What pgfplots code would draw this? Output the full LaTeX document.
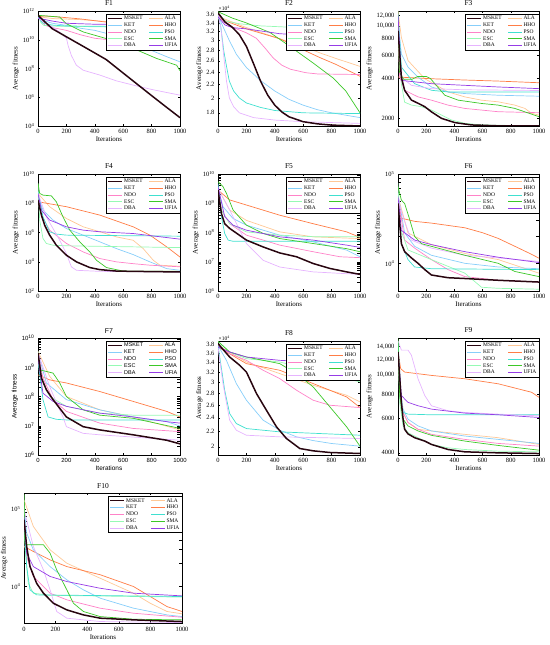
\documentclass[border=0pt]{standalone}
\usepackage{fontspec}
\setmainfont{Liberation Serif}
\newfontfamily\sansf{Liberation Sans}
\usepackage{pgfplots}
\pgfplotsset{compat=1.18}
\definecolor{cMSKET}{RGB}{40,5,15}
\definecolor{cKET}{RGB}{135,206,250}
\definecolor{cNDO}{RGB}{255,130,200}
\definecolor{cESC}{RGB}{150,250,180}
\definecolor{cDBA}{RGB}{230,180,255}
\definecolor{cALA}{RGB}{255,200,150}
\definecolor{cHHO}{RGB}{255,125,70}
\definecolor{cPSO}{RGB}{64,224,208}
\definecolor{cSMA}{RGB}{60,200,40}
\definecolor{cUFIA}{RGB}{150,60,230}
\pgfplotsset{
 sMSKET/.style={color=cMSKET, line width=1.5bp},
 sKET/.style={color=cKET, line width=0.7bp},
 sNDO/.style={color=cNDO, line width=0.7bp},
 sESC/.style={color=cESC, line width=0.7bp},
 sDBA/.style={color=cDBA, line width=0.7bp},
 sALA/.style={color=cALA, line width=0.7bp},
 sHHO/.style={color=cHHO, line width=0.7bp},
 sPSO/.style={color=cPSO, line width=0.7bp},
 sSMA/.style={color=cSMA, line width=0.7bp},
 sUFIA/.style={color=cUFIA, line width=0.7bp},
 base/.style={scale only axis, anchor=south west, xmin=0, xmax=1000,
  xtick={0,200,400,600,800,1000}, xticklabels={0,200,400,600,800,1000},
  tick label style={font=\fontsize{6.5}{7}\selectfont},
  label style={font=\fontsize{7}{8}\selectfont},
  title style={font=\fontsize{7.5}{8}\selectfont, yshift=-4.5bp},
  xlabel={Iterations}, ylabel={Average fitness},
  xlabel style={yshift=3.5bp}, ylabel style={yshift=-3bp},
  major tick length=2bp, tick style={line width=0.4bp, black},
  axis line style={line width=0.5bp},
  clip mode=individual,
  legend columns=2, legend cell align=left,
  legend image code/.code={\draw[##1] (0bp,0bp) -- (14bp,0bp);},
  legend style={at={(1,1)}, anchor=north east, yshift=-3bp,
   font=\fontsize{5.5}{6}\selectfont, draw=black, line width=0.4bp,
   inner xsep=1.5bp, inner ysep=0.8bp, nodes={inner sep=1bp, text height=3.8bp, text depth=1bp},
   /tikz/every even column/.append style={column sep=5bp}}},
}
\newcommand{\legs}{%
\addlegendimage{sMSKET}\addlegendentry{MSKET}
\addlegendimage{sALA}\addlegendentry{ALA}
\addlegendimage{sKET}\addlegendentry{KET}
\addlegendimage{sHHO}\addlegendentry{HHO}
\addlegendimage{sNDO}\addlegendentry{NDO}
\addlegendimage{sPSO}\addlegendentry{PSO}
\addlegendimage{sESC}\addlegendentry{ESC}
\addlegendimage{sSMA}\addlegendentry{SMA}
\addlegendimage{sDBA}\addlegendentry{DBA}
\addlegendimage{sUFIA}\addlegendentry{UFIA}}
\begin{document}
\begin{tikzpicture}
\useasboundingbox (0,0) rectangle (550bp,645bp);
% ---------------- F1
\begin{axis}[base, at={(38bp,519bp)}, width=142bp, height=115bp, title={F1},
 ymode=log, ymin=1e4, ymax=1e12, ytick={1e4,1e6,1e8,1e10,1e12},
 yticklabels={10\textsuperscript{4},10\textsuperscript{6},10\textsuperscript{8},10\textsuperscript{10},10\textsuperscript{12}}]
\legs
\addplot[sALA,forget plot] coordinates {(0,4e11) (100,3e11) (300,2.5e11) (500,1.8e11) (700,1e11) (900,4e10) (1000,2.7e10)};
\addplot[sHHO,forget plot] coordinates {(0,4e11) (50,4.5e11) (150,3.8e11) (300,2.8e11) (500,1.6e11) (700,9e10) (850,4e10) (950,1.5e10) (1000,9e9)};
\addplot[sKET,forget plot] coordinates {(0,4e11) (50,2e11) (100,1.41e11) (200,1e11) (300,6.3e10) (400,4.5e10) (500,2.5e10) (600,1.1e10) (700,4.5e9) (800,1.8e9) (900,7e8) (1000,2.9e8)};
\addplot[sNDO,forget plot] coordinates {(0,4e11) (50,1e11) (100,7.1e10) (200,4.5e10) (300,2.2e10) (400,1.26e10) (500,1e10) (700,9.5e9) (1000,8.9e9)};
\addplot[sESC,forget plot] coordinates {(0,5e11) (20,1.6e11) (40,1e11) (100,8.9e10) (1000,6.5e10)};
\addplot[sPSO,forget plot] coordinates {(0,4e11) (30,1.5e11) (100,1.05e11) (200,9e10) (1000,7.9e10)};
\addplot[sDBA,forget plot] coordinates {(0,3.2e11) (50,1.5e11) (100,8e10) (150,3.5e10) (200,1.3e10) (212,4e9) (235,8e8) (270,1.7e8) (318,7.6e7) (435,3.5e7) (550,1.4e7) (670,7e6) (800,3.5e6) (900,2.2e6) (1000,1.4e6)};
\addplot[sSMA,forget plot] coordinates {(0,5e11) (153,3.8e11) (200,1.3e11) (318,3.5e10) (482,1.2e10) (670,2.5e9) (835,5e8) (976,1.7e8) (1000,7e7)};
\addplot[sUFIA,forget plot] coordinates {(0,3.2e11) (100,2e11) (200,1.4e11) (400,1.2e11) (1000,1.1e11)};
\addplot[sMSKET,forget plot] coordinates {(0,5.0e11) (50,1.7e11) (100,5.9e10) (200,1.6e10) (300,4.4e9) (400,1.2e9) (480,4.2e8) (600,4.8e7) (700,7.9e6) (800,1.3e6) (900,2.2e5) (1000,3.8e4)};
\end{axis}
% ---------------- F2
\begin{axis}[base, at={(218bp,519bp)}, width=142bp, height=115bp, title={F2},
 ymode=log, ymin=16400, ymax=37000, ytick={18000,20000,22000,24000,26000,28000,30000,32000,34000,36000},
 yticklabels={1.8,2,2.2,2.4,2.6,2.8,3,3.2,3.4,3.6}]
\legs
\node[anchor=south west, font=\fontsize{5.5}{6}\selectfont, inner sep=0.5bp] at (rel axis cs:0,1) {×10\textsuperscript{4}};
\addplot[sALA,forget plot] coordinates {(0,35600) (200,32900) (435,30400) (600,28800) (718,27500) (835,26400) (1000,25000)};
\addplot[sHHO,forget plot] coordinates {(0,35200) (200,32600) (435,30400) (600,28100) (718,26600) (835,25300) (1000,23300)};
\addplot[sKET,forget plot] coordinates {(0,36000) (30,33500) (80,30000) (130,27200) (200,24800) (300,22600) (400,21000) (500,19800) (600,19000) (700,18400) (800,18000) (900,17700) (1000,17400)};
\addplot[sNDO,forget plot] coordinates {(0,36000) (50,34000) (100,33000) (200,31700) (270,30500) (330,28500) (390,26500) (450,25200) (510,24500) (620,23900) (700,23700) (1000,23600)};
\addplot[sESC,forget plot] coordinates {(0,36500) (50,34500) (150,33800) (300,33300) (500,33000) (600,32500) (700,31800) (800,30800) (900,29800) (1000,28500)};
\addplot[sPSO,forget plot] coordinates {(0,36000) (20,33000) (40,28000) (60,25000) (80,22500) (110,21000) (150,20000) (200,19300) (300,18700) (400,18300) (600,18000) (1000,17900)};
\addplot[sDBA,forget plot] coordinates {(0,36000) (20,33000) (40,27000) (60,22500) (80,20000) (110,18800) (150,18000) (250,17400) (400,17100) (600,16900) (1000,16700)};
\addplot[sSMA,forget plot] coordinates {(0,36800) (100,35200) (200,34000) (365,31800) (506,28800) (670,25600) (812,23000) (900,21000) (1000,18000)};
\addplot[sUFIA,forget plot] coordinates {(0,35500) (50,33500) (100,32900) (200,32600) (435,31500) (670,31100) (1000,30600)};
\addplot[sMSKET,forget plot] coordinates {(0,36500) (50,34200) (100,33000) (150,31300) (200,28800) (250,25500) (300,22500) (350,20400) (400,19000) (450,18100) (500,17500) (600,16900) (700,16650) (800,16500) (1000,16400)};
\end{axis}
% ---------------- F3
\begin{axis}[base, at={(398bp,519bp)}, width=141bp, height=115bp, title={F3},
 ymode=log, ymin=1750, ymax=13000, ytick={2000,4000,6000,8000,10000,12000},
 yticklabels={2000,4000,6000,8000,{10,000},{12,000}}]
\legs
\addplot[sALA,forget plot] coordinates {(0,12990) (24,8190) (71,5480) (190,3990) (355,3170) (474,2907) (592,2745) (711,2667) (829,2518) (900,2377) (948,2180) (1000,2118)};
\addplot[sHHO,forget plot] coordinates {(0,4107) (237,3990) (474,3900) (711,3830) (1000,3720)};
\addplot[sKET,forget plot] coordinates {(0,10900) (24,6140) (71,4880) (142,4107) (237,3455) (355,3170) (474,3080) (711,2992) (1000,2941)};
\addplot[sNDO,forget plot] coordinates {(0,8700) (12,4100) (47,3262) (142,2907) (237,2745) (355,2518) (474,2377) (711,2244) (1000,2206)};
\addplot[sESC,forget plot] coordinates {(0,12900) (24,3650) (47,2650) (95,2520) (166,2450) (237,2310) (308,2120) (379,1943) (474,1834) (592,1782) (1000,1752)};
\addplot[sPSO,forget plot] coordinates {(0,12260) (24,4880) (118,3660) (237,3262) (355,3170) (1000,3170)};
\addplot[sDBA,forget plot] coordinates {(0,10300) (24,4107) (95,3556) (237,3357) (474,3290) (1000,3250)};
\addplot[sSMA,forget plot] coordinates {(0,12260) (10,4500) (40,3950) (100,3950) (140,4150) (200,4155) (230,4000) (261,3660) (332,2992) (427,2745) (592,2592) (711,2518) (829,2377) (1000,2058)};
\addplot[sUFIA,forget plot] coordinates {(0,12260) (24,3877) (237,3660) (474,3556) (711,3455) (1000,3357)};
\addplot[sMSKET,forget plot] coordinates {(0,9200) (24,4100) (47,3260) (95,2750) (142,2600) (190,2450) (237,2240) (308,2000) (403,1856) (521,1782) (711,1755) (1000,1752)};
\end{axis}
% ---------------- F4
\begin{axis}[base, at={(38bp,354bp)}, width=142bp, height=117bp, title={F4},
 ymode=log, ymin=1e2, ymax=1e10, ytick={1e2,1e4,1e6,1e8,1e10},
 yticklabels={10\textsuperscript{2},10\textsuperscript{4},10\textsuperscript{6},10\textsuperscript{8},10\textsuperscript{10}}]
\legs
\addplot[sALA,forget plot] coordinates {(0,4.7e8) (82,5.8e7) (200,9.1e6) (318,2.45e6) (435,1.12e6) (553,5e5) (670,2.95e5) (741,7.9e4) (812,1.26e4) (859,5.8e3) (1000,4.9e3)};
\addplot[sHHO,forget plot] coordinates {(0,1.26e8) (200,5.8e7) (435,1.55e7) (670,2.45e6) (788,6.6e5) (906,1.05e5) (1000,2.1e4)};
\addplot[sKET,forget plot] coordinates {(0,2.8e8) (35,3.4e7) (106,7.1e6) (200,1.86e6) (318,6.6e5) (435,2.3e5) (553,7.9e4) (670,3.1e4) (788,9.8e3) (906,3.4e3) (1000,2.6e3)};
\addplot[sNDO,forget plot] coordinates {(0,1.58e8) (24,1.58e7) (82,1.45e6) (200,1.78e5) (318,4.7e4) (435,1.66e4) (553,9.8e3) (670,7.4e3) (788,5.8e3) (1000,4.5e3)};
\addplot[sESC,forget plot] coordinates {(0,2.3e9) (12,7.1e6) (35,3.9e5) (59,1.78e5) (106,1.35e5) (200,1.23e5) (1000,9.3e4)};
\addplot[sPSO,forget plot] coordinates {(0,6.3e8) (35,1.17e7) (82,1.12e6) (129,7.8e5) (200,6.6e5) (1000,5.6e5)};
\addplot[sDBA,forget plot] coordinates {(0,4.7e8) (59,1.17e7) (153,2.95e5) (200,3.6e4) (235,4.5e3) (271,2.6e3) (435,2.2e3) (1000,2e3)};
\addplot[sSMA,forget plot] coordinates {(0,2.3e9) (12,4.7e8) (35,3.6e8) (94,3.2e8) (129,1.26e8) (176,1.17e7) (224,1.45e6) (294,2.3e5) (365,4.7e4) (412,1.26e4) (482,4e3) (600,2.3e3) (1000,2.2e3)};
\addplot[sUFIA,forget plot] coordinates {(0,4.7e8) (24,3.4e7) (82,7.1e6) (200,2.45e6) (318,1.45e6) (435,1.12e6) (670,8.5e5) (1000,3.5e5)};
\addplot[sMSKET,forget plot] coordinates {(0,1.58e8) (24,1.55e7) (47,3.16e6) (82,6.6e5) (129,1.35e5) (200,2.8e4) (271,9.8e3) (365,4e3) (435,2.9e3) (553,2.3e3) (670,2.2e3) (1000,2e3)};
\end{axis}
% ---------------- F5
\begin{axis}[base, at={(218bp,354bp)}, width=142bp, height=117bp, title={F5},
 ymode=log, ymin=1e6, ymax=1e10, ytick={1e6,1e7,1e8,1e9,1e10},
 yticklabels={10\textsuperscript{6},10\textsuperscript{7},10\textsuperscript{8},10\textsuperscript{9},10\textsuperscript{10}}]
\legs
\addplot[sALA,forget plot] coordinates {(0,3.2e9) (82,5.9e8) (200,2.6e8) (435,1.05e8) (670,7.1e7) (1000,6.2e7)};
\addplot[sHHO,forget plot] coordinates {(0,2.8e9) (82,1.3e9) (200,8.7e8) (435,3.9e8) (670,2e8) (906,1.05e8) (1000,6.8e7)};
\addplot[sKET,forget plot] coordinates {(0,3.2e9) (35,7.6e8) (106,3e8) (200,1.78e8) (318,1.2e8) (435,8.1e7) (670,4.8e7) (906,2.5e7) (1000,1.48e7)};
\addplot[sNDO,forget plot] coordinates {(0,2.5e9) (24,5.9e8) (82,2e8) (200,8.1e7) (318,5.5e7) (435,3.7e7) (670,2.2e7) (859,1.48e7) (1000,1.38e7)};
\addplot[sESC,forget plot] coordinates {(0,3.7e9) (24,5.9e8) (82,2e8) (200,1.05e8) (435,8.1e7) (670,7.2e7) (1000,7.1e7)};
\addplot[sPSO,forget plot] coordinates {(0,4.8e9) (24,3.5e8) (47,9.3e7) (71,5.5e7) (106,5e7) (1000,5e7)};
\addplot[sDBA,forget plot] coordinates {(0,3.2e9) (82,5.9e8) (153,1.2e8) (200,4.2e7) (318,1.12e7) (435,6.6e6) (670,4.5e6) (906,3.9e6) (1000,3.7e6)};
\addplot[sSMA,forget plot] coordinates {(0,5.5e9) (35,3.7e9) (59,2.2e9) (106,5.9e8) (200,1.78e8) (318,9.3e7) (435,6.2e7) (670,4.2e7) (906,2.8e7) (1000,2.2e7)};
\addplot[sUFIA,forget plot] coordinates {(0,3.7e9) (47,3.5e8) (106,1.78e8) (200,1.2e8) (435,7.1e7) (670,5.5e7) (906,3.7e7) (1000,3.1e7)};
\addplot[sMSKET,forget plot] coordinates {(0,2.8e9) (24,4.5e8) (47,2e8) (82,1.38e8) (200,5.5e7) (318,3.2e7) (435,2e7) (553,1.48e7) (670,8.7e6) (788,5.9e6) (906,4.5e6) (1000,3.7e6)};
\end{axis}
% ---------------- F6
\begin{axis}[base, at={(398bp,354bp)}, width=141bp, height=117bp, title={F6},
 ymode=log, ymin=4900, ymax=1e5, ytick={1e4,1e5},
 yticklabels={10\textsuperscript{4},10\textsuperscript{5}}]
\legs
\addplot[sALA,forget plot] coordinates {(0,56000) (71,21900) (237,16200) (474,12900) (711,11000) (1000,7760)};
\addplot[sHHO,forget plot] coordinates {(0,40000) (24,32000) (118,29500) (237,28200) (474,25000) (600,22000) (711,19000) (829,15500) (948,12600) (1000,11400)};
\addplot[sKET,forget plot] coordinates {(0,60000) (47,21900) (118,15500) (237,12300) (474,10000) (711,9100) (1000,8700)};
\addplot[sNDO,forget plot] coordinates {(0,56000) (47,18200) (118,14800) (237,11000) (355,8500) (474,7100) (711,6460) (1000,6170)};
\addplot[sESC,forget plot] coordinates {(0,79000) (12,25700) (71,14100) (237,11000) (474,7760) (592,5400) (711,5250) (1000,5130)};
\addplot[sPSO,forget plot] coordinates {(0,51000) (24,16600) (71,11000) (118,9100) (237,8700) (1000,8500)};
\addplot[sDBA,forget plot] coordinates {(0,51000) (47,29500) (95,18200) (237,14800) (474,12300) (711,11500) (1000,10500)};
\addplot[sSMA,forget plot] coordinates {(0,72000) (24,51000) (47,46800) (83,30900) (118,20000) (166,16600) (237,15500) (474,12300) (711,10000) (829,8100) (1000,7100)};
\addplot[sUFIA,forget plot] coordinates {(0,56000) (24,23400) (118,18200) (237,16200) (474,13500) (711,11700) (1000,10200)};
\addplot[sMSKET,forget plot] coordinates {(0,46800) (24,16600) (47,13500) (95,11500) (142,10000) (190,8500) (237,7400) (355,6900) (474,6760) (711,6460) (1000,6170)};
\end{axis}
% ---------------- F7
\begin{axis}[base, at={(38bp,190bp)}, width=142bp, height=117bp, title={F7},
 tick label style={font=\sansf\fontsize{6}{7}\selectfont},
 label style={font=\sansf\fontsize{6.5}{7}\selectfont},
 title style={font=\sansf\fontsize{7}{8}\selectfont},
 legend style={font=\sansf\fontsize{5.5}{6}\selectfont},
 ymode=log, ymin=1e6, ymax=1e10, ytick={1e6,1e7,1e8,1e9,1e10},
 yticklabels={10\textsuperscript{6},10\textsuperscript{7},10\textsuperscript{8},10\textsuperscript{9},10\textsuperscript{10}}]
\legs
\addplot[sALA,forget plot] coordinates {(0,3.5e9) (82,4.9e8) (200,1e8) (435,3.5e7) (670,2e7) (1000,7.2e6)};
\addplot[sHHO,forget plot] coordinates {(0,5.5e8) (82,3.7e8) (200,2.9e8) (435,1.48e8) (670,6.8e7) (906,3.1e7) (1000,2e7)};
\addplot[sKET,forget plot] coordinates {(0,3.1e9) (59,2.9e8) (200,7.8e7) (435,3.5e7) (670,2e7) (906,1.38e7) (1000,9.8e6)};
\addplot[sNDO,forget plot] coordinates {(0,3.1e9) (35,4.3e8) (106,7.8e7) (200,3.1e7) (435,1.23e7) (670,8.1e6) (1000,6.3e6)};
\addplot[sESC,forget plot] coordinates {(0,3.5e9) (24,3.7e8) (82,1e8) (200,4.6e7) (435,2.7e7) (670,2.3e7) (1000,2.3e7)};
\addplot[sPSO,forget plot] coordinates {(0,1.58e9) (35,7.8e7) (71,2e7) (129,1.66e7) (200,1.58e7) (1000,1.58e7)};
\addplot[sDBA,forget plot] coordinates {(0,3.1e9) (82,2.2e8) (141,4.6e7) (176,2e7) (200,9.3e6) (318,5.5e6) (435,4.9e6) (1000,3.2e6)};
\addplot[sSMA,forget plot] coordinates {(0,2.3e9) (12,8.1e8) (59,7.2e8) (106,6.3e8) (153,2.9e8) (200,1e8) (318,3.5e7) (435,2.3e7) (670,1.8e7) (1000,8.1e6)};
\addplot[sUFIA,forget plot] coordinates {(0,2e9) (35,1.3e8) (106,6.8e7) (200,4.6e7) (435,2.7e7) (670,2e7) (906,1.38e7) (1000,1.23e7)};
\addplot[sMSKET,forget plot] coordinates {(0,3.1e9) (24,4.3e8) (59,1.7e8) (106,7.8e7) (200,2e7) (318,9.3e6) (435,7.2e6) (670,4.9e6) (906,3.2e6) (1000,2.4e6)};
\end{axis}
% ---------------- F8
\begin{axis}[base, at={(218bp,190bp)}, width=142bp, height=114bp, title={F8},
 ymode=log, ymin=19000, ymax=38900, ytick={20000,22000,24000,26000,28000,30000,32000,34000,36000,38000},
 yticklabels={2,2.2,2.4,2.6,2.8,3,3.2,3.4,3.6,3.8}]
\legs
\node[anchor=south west, font=\fontsize{5.5}{6}\selectfont, inner sep=0.5bp] at (rel axis cs:0,1) {×10\textsuperscript{4}};
\addplot[sALA,forget plot] coordinates {(0,37840) (200,34080) (435,31680) (670,29440) (906,27650) (1000,26520)};
\addplot[sHHO,forget plot] coordinates {(0,37450) (200,33730) (435,32350) (670,29760) (906,27360) (1000,25590)};
\addplot[sKET,forget plot] coordinates {(0,37840) (59,34440) (129,29760) (200,26800) (318,23640) (435,22200) (553,21290) (670,20800) (800,20420) (1000,20080)};
\addplot[sNDO,forget plot] coordinates {(0,37840) (82,35920) (200,34440) (318,32350) (435,30700) (553,28540) (670,26800) (788,25970) (1000,25590)};
\addplot[sESC,forget plot] coordinates {(0,38800) (82,36290) (200,34800) (435,34080) (670,32350) (1000,30070)};
\addplot[sPSO,forget plot] coordinates {(0,37840) (47,28540) (82,24650) (129,23150) (200,22430) (435,21970) (1000,21510)};
\addplot[sDBA,forget plot] coordinates {(0,37450) (35,29760) (82,23640) (129,22200) (200,21510) (435,21290) (1000,21070)};
\addplot[sSMA,forget plot] coordinates {(0,38800) (82,36290) (200,35170) (318,34440) (435,33730) (553,31680) (670,29140) (788,25700) (906,22670) (1000,20080)};
\addplot[sUFIA,forget plot] coordinates {(0,37450) (82,36290) (200,35170) (435,34440) (670,34080) (1000,33380)};
\addplot[sMSKET,forget plot] coordinates {(0,38240) (82,35170) (153,33380) (200,32010) (271,27950) (341,25170) (412,22670) (482,21070) (576,19790) (670,19500) (788,19300) (1000,19180)};
\end{axis}
% ---------------- F9
\begin{axis}[base, at={(398bp,190bp)}, width=141bp, height=117bp, title={F9},
 ymode=log, ymin=3900, ymax=15500, ytick={4000,6000,8000,10000,12000,14000},
 yticklabels={4000,6000,8000,{10,000},{12,000},{14,000}}]
\legs
\addplot[sALA,forget plot] coordinates {(0,14250) (24,6700) (71,5720) (142,5280) (237,5180) (474,4975) (711,4782) (1000,4417)};
\addplot[sHHO,forget plot] coordinates {(0,13160) (19,10790) (47,10370) (237,9970) (474,9580) (711,9030) (948,8170) (1000,7700)};
\addplot[sKET,forget plot] coordinates {(0,15000) (12,8850) (36,6700) (71,5950) (142,5495) (237,5180) (474,4877) (711,4688) (1000,4470)};
\addplot[sNDO,forget plot] coordinates {(0,14250) (12,8170) (36,6440) (71,5720) (142,5280) (237,4975) (474,4688) (711,4470) (1000,4330)};
\addplot[sESC,forget plot] coordinates {(0,15000) (12,7255) (36,5495) (71,5075) (142,4782) (237,4417) (355,4245) (474,4161) (711,4080) (1000,4048)};
\addplot[sPSO,forget plot] coordinates {(0,14830) (24,6970) (36,6440) (71,6315) (237,6265) (1000,6265)};
\addplot[sDBA,forget plot] coordinates {(0,15000) (24,13430) (71,13430) (95,12650) (142,9580) (190,7860) (237,6970) (355,6570) (474,6440) (711,6315) (1000,6190)};
\addplot[sSMA,forget plot] coordinates {(0,15400) (12,7860) (36,5950) (71,5495) (142,5180) (237,4917) (474,4595) (711,4364) (1000,4128)};
\addplot[sUFIA,forget plot] coordinates {(0,13160) (24,7860) (71,7255) (142,6970) (237,6700) (474,6390) (711,6265) (1000,6070)};
\addplot[sMSKET,forget plot] coordinates {(0,13160) (24,7255) (36,5950) (47,5280) (71,5000) (118,4782) (190,4595) (237,4417) (355,4161) (474,4048) (711,4000) (1000,3968)};
\end{axis}
% ---------------- F10
\begin{axis}[base, at={(24bp,21.7bp)}, width=158bp, height=130bp, title={F10},
 ymode=log, ymin=3350, ymax=1.6e5, ytick={1e4,1e5},
 yticklabels={10\textsuperscript{4},10\textsuperscript{5}}]
\legs
\addplot[sALA,forget plot] coordinates {(0,1.32e5) (59,59700) (165,29800) (271,20000) (482,12800) (693,8200) (799,6080) (905,4760) (1000,4440)};
\addplot[sHHO,forget plot] coordinates {(0,32900) (59,28400) (165,22100) (271,18100) (482,14200) (693,10000) (799,7430) (905,5510) (1000,4760)};
\addplot[sKET,forget plot] coordinates {(0,1.08e5) (17,49000) (59,29800) (165,18100) (271,12200) (376,9060) (482,7070) (693,5250) (905,4300) (1000,4090)};
\addplot[sNDO,forget plot] coordinates {(0,88800) (17,24400) (59,13500) (165,8200) (271,6730) (482,5250) (693,4520) (1000,4010)};
\addplot[sESC,forget plot] coordinates {(0,1.55e5) (6,32900) (27,11000) (59,8200) (165,7700) (1000,7300)};
\addplot[sPSO,forget plot] coordinates {(0,72800) (17,18100) (38,9060) (80,7800) (1000,7430)};
\addplot[sDBA,forget plot] coordinates {(0,99000) (59,32900) (123,16400) (165,9060) (207,4760) (271,3900) (482,3530) (1000,3420)};
\addplot[sSMA,forget plot] coordinates {(0,1.55e5) (6,36300) (17,34600) (123,34600) (165,27000) (207,16400) (271,9060) (313,6080) (376,4760) (482,4090) (693,3780) (1000,3710)};
\addplot[sUFIA,forget plot] coordinates {(0,80400) (17,27000) (59,18100) (165,13500) (271,11600) (482,9500) (693,8200) (1000,7570)};
\addplot[sMSKET,forget plot] coordinates {(0,72800) (17,32900) (38,18100) (80,11000) (123,8200) (186,6080) (271,4990) (376,4300) (482,3900) (693,3710) (1000,3530)};
\end{axis}
\end{tikzpicture}
\end{document}
